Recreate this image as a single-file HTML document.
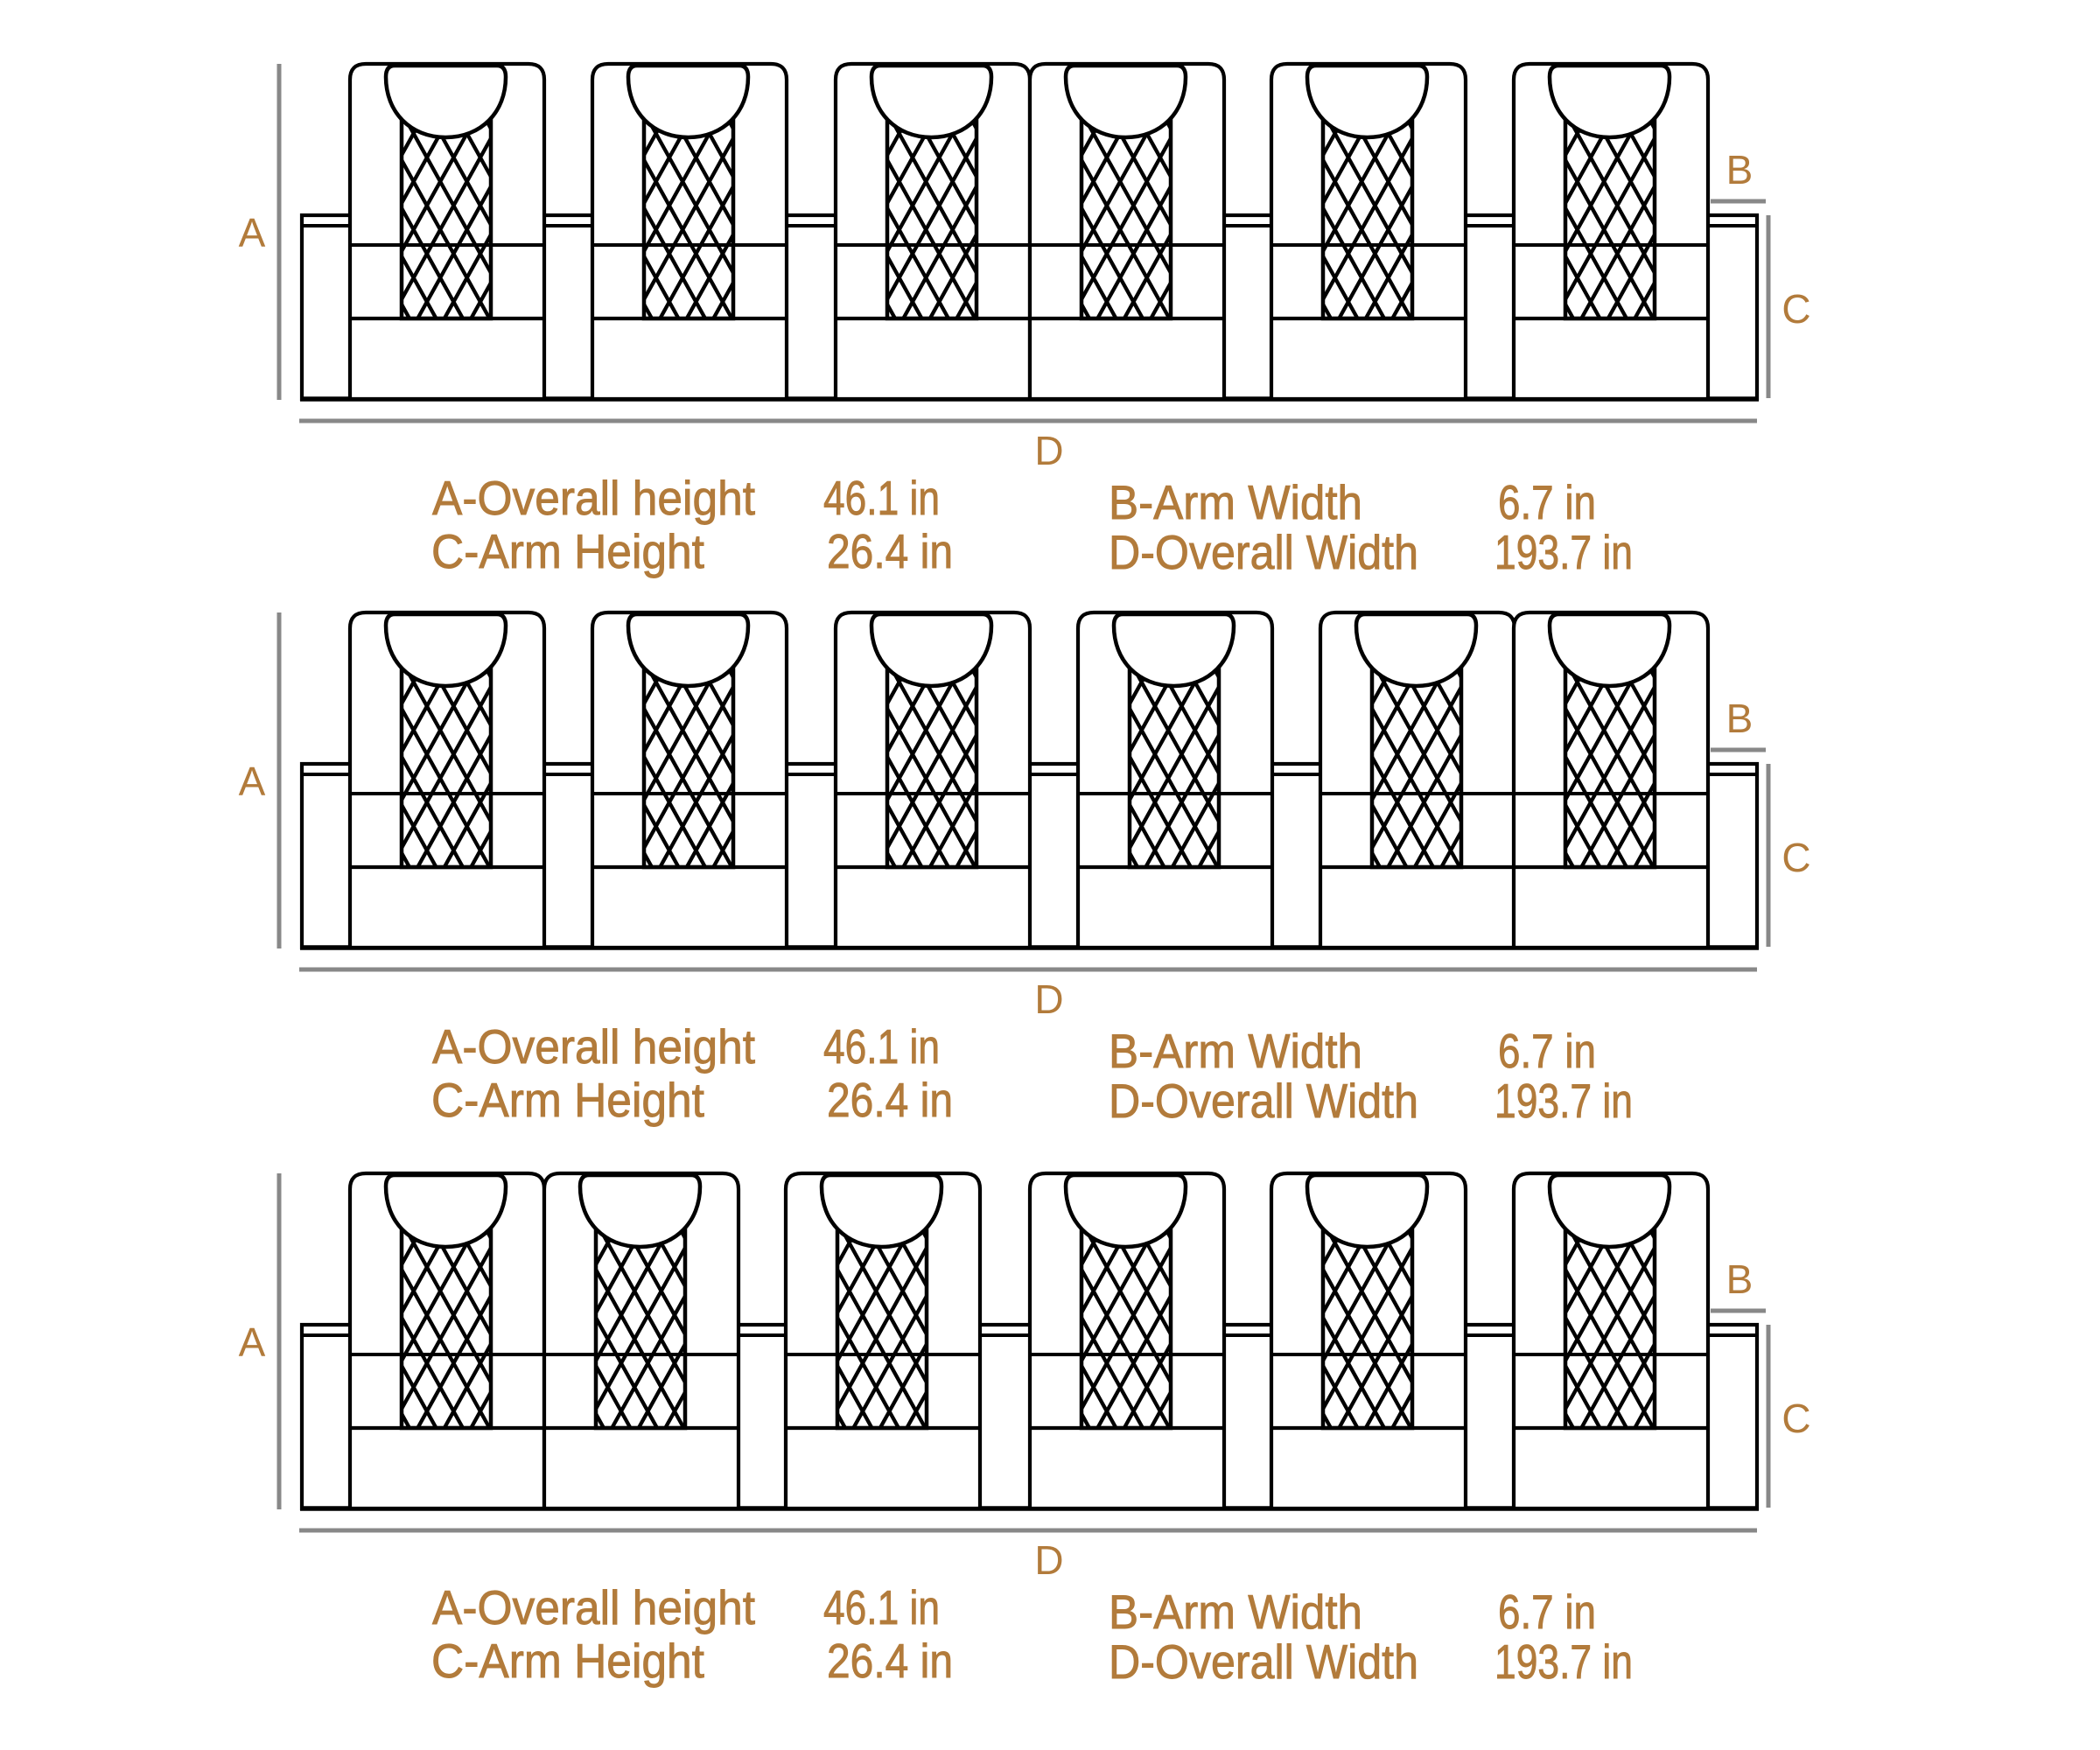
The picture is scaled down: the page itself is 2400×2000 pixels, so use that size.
<!DOCTYPE html>
<html><head><meta charset="utf-8"><style>
html,body{margin:0;padding:0;background:#fff;}
svg{display:block;}
text{font-family:"Liberation Sans",sans-serif;fill:#B27B3B;}
.t{stroke:#B27B3B;stroke-width:0.9;}
</style></head><body>
<svg width="2400" height="2000" viewBox="0 0 2400 2000" xmlns="http://www.w3.org/2000/svg">
<defs>
<clipPath id="lc"><rect x="59" y="60" width="102" height="231"/></clipPath>
<g id="seat">
<path d="M0,383 L0,18 Q0,0 18,0 L204,0 Q222,0 222,18 L222,383 Z" fill="#fff" stroke="#000" stroke-width="4.2"/>
<g clip-path="url(#lc)">
<path fill="none" stroke="#000" stroke-width="4.3" d="M-71.3,40L78.5,310M-40.8,40L109,310M-10.3,40L139.5,310M20.2,40L170,310M50.7,40L200.5,310M81.2,40L231,310M111.7,40L261.5,310M142.2,40L292,310M64.1,40L-85.7,310M94.6,40L-55.2,310M125.1,40L-24.7,310M155.6,40L5.8,310M186.1,40L36.3,310M216.6,40L66.8,310M247.1,40L97.3,310M277.6,40L127.8,310"/>
</g>
<rect x="59" y="60" width="102" height="231" fill="none" stroke="#000" stroke-width="4.5"/>
<line x1="0" y1="207" x2="222" y2="207" stroke="#000" stroke-width="4"/>
<line x1="0" y1="291" x2="222" y2="291" stroke="#000" stroke-width="4.2"/>
<path d="M51,2 L168,2 Q178,2 178,15 C178,55 150,84 109.5,84 C69,84 41,55 41,15 Q41,2 51,2 Z" fill="#fff" stroke="#000" stroke-width="4.5"/>
</g>
<g id="frame">
<rect x="345" y="246" width="1663" height="210" fill="#fff" stroke="#000" stroke-width="4.2"/>
<line x1="345" y1="258" x2="2008" y2="258" stroke="#000" stroke-width="4"/>
<line x1="343" y1="456" x2="2010" y2="456" stroke="#000" stroke-width="5.5"/>
<rect x="316.5" y="73" width="5" height="384" fill="#888"/>
<rect x="342" y="478.5" width="1666" height="5" fill="#888"/>
<rect x="1955" y="227.5" width="63" height="5" fill="#888"/>
<rect x="2018.5" y="246" width="5" height="209" fill="#888"/>
<text x="288" y="282" font-size="46" text-anchor="middle">A</text>
<text x="1988" y="210" font-size="46" text-anchor="middle">B</text>
<text x="2053" y="369" font-size="46" text-anchor="middle">C</text>
<text x="1199" y="531" font-size="46" text-anchor="middle">D</text>
<g class="t">
<text x="494" y="588" font-size="55" textLength="369" lengthAdjust="spacingAndGlyphs">A-Overall height</text>
<text x="941" y="588" font-size="55" textLength="133" lengthAdjust="spacingAndGlyphs">46.1 in</text>
<text x="493" y="649" font-size="55" textLength="312" lengthAdjust="spacingAndGlyphs">C-Arm Height</text>
<text x="945" y="649" font-size="55" textLength="144" lengthAdjust="spacingAndGlyphs">26.4 in</text>
<text x="1267" y="593" font-size="55" textLength="290" lengthAdjust="spacingAndGlyphs">B-Arm Width</text>
<text x="1712" y="593" font-size="55" textLength="112" lengthAdjust="spacingAndGlyphs">6.7 in</text>
<text x="1267" y="650" font-size="55" textLength="354" lengthAdjust="spacingAndGlyphs">D-Overall Width</text>
<text x="1708" y="650" font-size="55" textLength="158" lengthAdjust="spacingAndGlyphs">193.7 in</text>
</g>
</g>
</defs>

<g transform="translate(0,0)">
<use href="#frame"/>
<use href="#seat" x="400" y="73"/>
<use href="#seat" x="677" y="73"/>
<use href="#seat" x="955" y="73"/>
<use href="#seat" x="1177" y="73"/>
<use href="#seat" x="1453" y="73"/>
<use href="#seat" x="1730" y="73"/>
</g>
<g transform="translate(0,627)">
<use href="#frame"/>
<use href="#seat" x="400" y="73"/>
<use href="#seat" x="677" y="73"/>
<use href="#seat" x="955" y="73"/>
<use href="#seat" x="1232" y="73"/>
<use href="#seat" x="1509" y="73"/>
<use href="#seat" x="1730" y="73"/>
</g>
<g transform="translate(0,1268)">
<use href="#frame"/>
<use href="#seat" x="400" y="73"/>
<use href="#seat" x="622" y="73"/>
<use href="#seat" x="898" y="73"/>
<use href="#seat" x="1177" y="73"/>
<use href="#seat" x="1453" y="73"/>
<use href="#seat" x="1730" y="73"/>
</g>
</svg>
</body></html>
